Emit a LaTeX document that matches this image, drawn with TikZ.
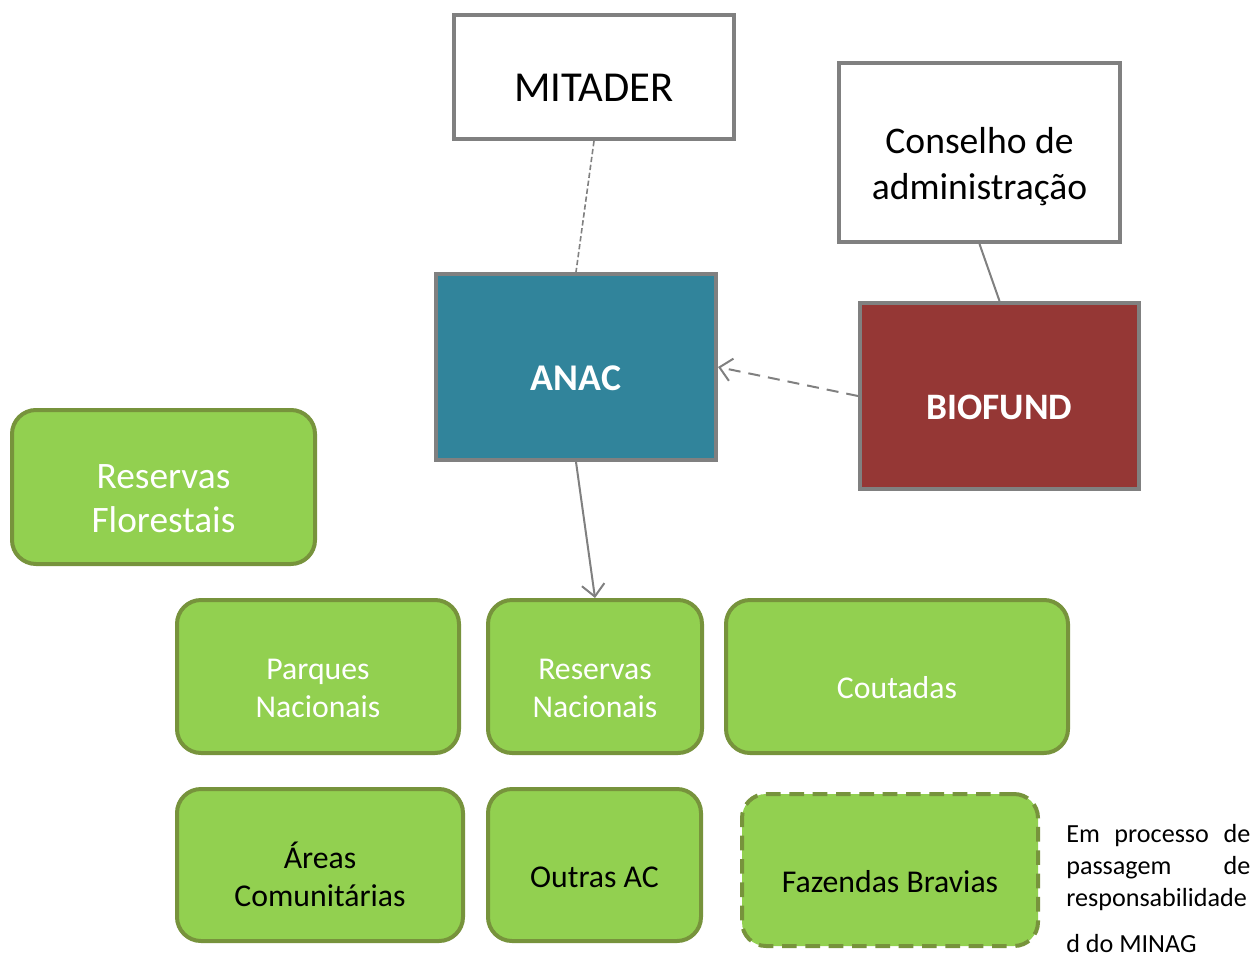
\documentclass[tikz,border=0pt]{standalone}
\usepackage{fontspec}
\setmainfont{Carlito}
\usetikzlibrary{arrows.meta}
\definecolor{teal1}{HTML}{31849B}
\definecolor{red1}{HTML}{953735}
\definecolor{green1}{HTML}{92D050}
\definecolor{green2}{HTML}{77933C}
\definecolor{gray1}{HTML}{808080}
\newcommand{\lowtxt}[1]{\raisebox{-11pt}[\height][\depth]{\begin{tabular}{@{}c@{}}#1\end{tabular}}}
\begin{document}
\begin{tikzpicture}[x=0.75pt,y=-0.75pt,
  sqbox/.style={draw=gray1,line width=3pt,align=center,inner sep=0pt},
  gbox/.style={draw=green2,fill=green1,line width=3pt,rounded corners=18pt,align=center,inner sep=0pt,font=\fontsize{23.8}{28.5}\selectfont},
  conn/.style={draw=gray1,line width=1.5pt},
  tip/.style={-{Straight Barb[length=9pt,width=17pt,line width=1.5pt]}}
]
\useasboundingbox (0,0) rectangle (1255,956);
\node[sqbox,fill=white,minimum width=210pt,minimum height=93pt,font=\fontsize{32}{38}\selectfont] (mit) at (594,77) {\lowtxt{MITADER}};
\node[sqbox,fill=white,minimum width=210.75pt,minimum height=134.25pt,font=\fontsize{28.2}{34.5}\selectfont] (cons) at (979.5,152.5) {\lowtxt{Conselho de\\administração}};
\node[sqbox,fill=teal1,text=white,minimum width=210pt,minimum height=139.5pt,font=\fontsize{28.3}{34}\selectfont\bfseries] (anac) at (576,367) {\lowtxt{ANAC}};
\node[sqbox,fill=red1,text=white,minimum width=209.25pt,minimum height=139.5pt,font=\fontsize{28}{34}\selectfont\bfseries] (bio) at (999.5,396) {\lowtxt{BIOFUND}};
\node[gbox,text=white,minimum width=227.25pt,minimum height=115.5pt,font=\fontsize{28}{33}\selectfont] (rf) at (163.5,487) {\lowtxt{Reservas\\Florestais}};
\node[gbox,text=white,minimum width=211.5pt,minimum height=114.75pt] (pn) at (318,676.5) {\lowtxt{Parques\\Nacionais}};
\node[gbox,text=white,minimum width=160.5pt,minimum height=114.75pt] (rn) at (595,676.5) {\lowtxt{Reservas\\Nacionais}};
\node[gbox,text=white,minimum width=256.5pt,minimum height=114.75pt] (cou) at (897,676.5) {\lowtxt{Coutadas}};
\node[gbox,text=black,minimum width=214.5pt,minimum height=114pt] (ac) at (320,865) {\lowtxt{Áreas\\Comunitárias}};
\node[gbox,text=black,minimum width=159.75pt,minimum height=114pt] (oac) at (594.5,865) {\lowtxt{Outras AC}};
\node[gbox,text=black,minimum width=222pt,minimum height=114pt,dash pattern=on 11pt off 6.5pt] (fb) at (890,870) {\lowtxt{Fazendas Bravias}};
\begin{scope}[every node/.style={anchor=base west,inner sep=0pt,font=\fontsize{19.6}{23}\selectfont}]
\node (t1) at (1066,842) {\makebox[138pt][s]{Em processo de}};
\node (t2) at (1066,874) {\makebox[138pt][s]{passagem de}};
\node (t3) at (1066,906) {responsabilidade};
\node (t4) at (1066,952) {d do MINAG};
\end{scope}
\draw[conn,line width=1.2pt,dash pattern=on 4pt off 2pt] (mit.south) -- (anac.north);
\draw[conn] (cons.south) -- (bio.north);
\draw[conn,tip,dash pattern=on 9pt off 6pt] (bio.west) -- (anac.east);
\draw[conn,tip] (anac.south) -- (rn.north);
\end{tikzpicture}
\end{document}
